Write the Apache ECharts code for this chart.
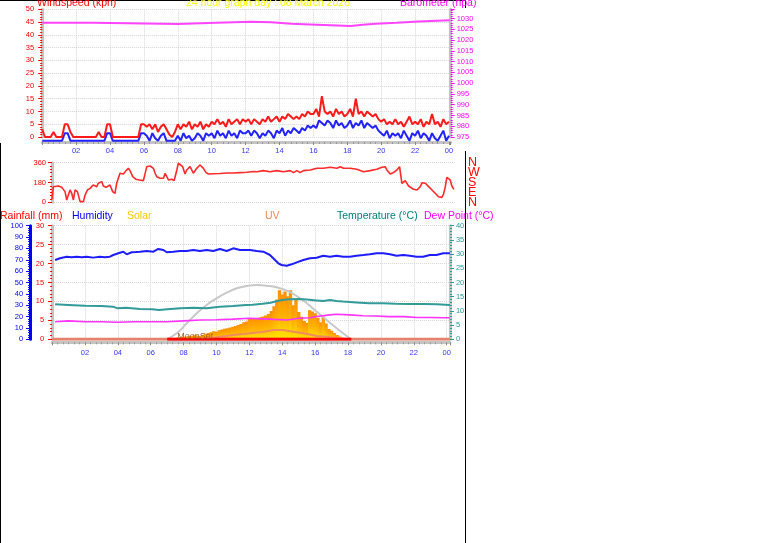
<!DOCTYPE html>
<html><head><meta charset="utf-8">
<script src="https://cdn.jsdelivr.net/npm/echarts@6/dist/echarts.min.js"></script>
<style>html,body{margin:0;padding:0;background:#fff;}#c{width:761px;height:543px;}</style>
</head><body><div id="c"></div>
<script>
// ---------- DATA ----------
const titleText = '24 hour graph day : 08 March 2026';
// wind, 10-minute samples from 00:00 (kph)
const windStepHours = 1/6;
const windGust = [
 3,0,0,0,2,0,  0,0,5,5,2,0,  0,0,0,0,0,0,  0,0,2,0,0,5,  5,0,0,0,0,0,  0,0,0,0,0,5,
 5,4,5,3,5,2,  4,5,3,1,0,2,  5,3,5,4,6,3,  5,4,6,3,5,4,  6,5,7,5,6,4,  7,5,6,7,5,7,
 6,7,5,7,6,5,  7,6,8,6,7,8,  6,8,7,9,8,7,  8,7,9,8,10,9, 9,11,8,16,10,9, 10,8,11,9,10,8,
 9,11,8,15,9,10, 8,10,9,8,9,7, 6,7,5,6,5,7, 5,6,4,6,8,5,  6,5,7,4,6,5,  9,5,6,4,7,5, 6];
const windAvg = [
 0,0,0,0,0,0,  0,0,3,3,0,0,  0,0,0,0,0,0,  0,0,0,0,0,3,  3,0,0,0,0,0,  0,0,0,0,0,3,
 3,2,0,3,1,0,  2,3,0,0,0,0,  2,0,3,1,2,0,  1,3,2,0,3,2,  3,1,4,2,3,1,  4,2,3,1,4,3,
 3,4,2,4,3,1,  3,2,4,3,1,4,  3,5,2,4,3,5,  4,3,5,4,6,5,  6,5,8,7,6,8,  7,5,8,6,7,5,
 6,8,5,7,6,8,  5,7,6,5,6,4,  3,2,4,1,3,2,  3,1,4,2,0,3,  2,4,1,3,2,0,  3,1,0,2,4,0, 2];
// barometer (hPa)
const baroHours = [0,3.0,8.0,9.8,12.3,13.5,14.7,16.2,18.2,18.9,19.7,20.9,22.2,24.05];
const baroVals  = [1028.05,1027.45,1027.9,1028.5,1028.25,1027.6,1027.15,1026.55,1027.15,1027.6,1028.05,1028.6,1029.2,1029.2];
// wind direction (degrees)
const dirHours = [0,0.08,0.38,0.58,0.78,0.88,0.98,1.08,1.18,1.28,1.38,1.52,1.68,1.78,1.88,1.98,2.12,2.28,2.47,2.68,2.77,2.98,3.07,3.23,3.31,3.47,3.63,3.77,3.87,3.97,4.07,4.27,4.43,4.57,4.67,4.83,5.03,5.23,5.47,5.67,5.87,6.07,6.17,6.27,6.47,6.67,6.77,6.87,6.97,7.17,7.31,7.47,7.56,7.66,7.82,7.96,8.06,8.26,8.36,8.46,8.66,8.86,8.96,9.06,9.22,9.36,9.66,10.06,10.46,10.86,11.26,11.66,12.06,12.26,12.65,13.05,13.45,13.85,14.25,14.45,14.65,14.85,15.05,15.45,15.85,16.25,16.65,17.05,17.25,17.45,17.84,18.24,18.64,19.04,19.44,19.74,19.94,20.04,20.24,20.44,20.64,20.8,20.94,21.14,21.34,21.64,21.84,22.04,22.14,22.34,22.54,22.74,22.93,23.13,23.33,23.43,23.53,23.63,23.73,23.83,23.93,24.05];
const dirVals  = [27,142,148,136,97,21,6,112,82,21,112,97,6,0,6,66,112,127,157,142,173,188,148,136,148,157,97,82,173,188,264,257,288,309,288,233,209,203,197,324,330,309,264,233,218,218,264,233,203,209,197,294,355,339,324,257,294,324,294,264,309,339,339,309,270,257,260,262,266,266,270,273,280,278,288,278,288,278,288,270,288,270,288,294,309,309,318,309,324,309,309,300,278,288,300,318,324,294,257,270,294,324,173,197,148,118,112,142,178,173,142,112,82,51,45,75,136,227,239,203,148,118];
// humidity (%)
const humHours = [0.18,0.48,0.88,1.2,1.49,1.8,2.1,2.5,2.91,3.2,3.52,3.72,3.82,4.03,4.33,4.54,4.84,5.1,5.35,5.75,6.16,6.46,6.77,6.97,7.37,7.78,8.18,8.59,8.99,9.4,9.8,10.21,10.62,11.02,11.43,11.83,12.04,12.44,12.85,13.25,13.56,13.76,13.96,14.27,14.57,14.88,15.28,15.69,16.09,16.49,16.9,17.3,17.71,18.11,18.52,18.93,19.33,19.74,20.14,20.55,20.95,21.36,21.76,22.17,22.57,22.98,23.38,23.79,24.2];
const humVals  = [69.8,71.3,72.7,72.2,72.7,72.2,72.7,71.9,72.7,72.2,72.7,74.2,75.1,75.7,77.1,74.8,76.6,76.8,77.1,77.7,77.1,79.5,78.6,76.6,77.1,77.7,77.7,78.6,77.7,78.6,77.7,79.5,77.7,80.1,78.6,78.6,78.6,77.7,77.1,74.2,69.8,66.9,65.4,64.8,66,67.7,69.8,71.3,71.8,73.6,72.7,73.6,72.7,72.7,73.6,74.2,74.8,75.7,75.7,74.8,73.6,74.2,73.6,72.7,72.7,74.2,74.2,75.7,75.7];
// temperature (°C)
const tempHours = [0.18,1,2,3,3.7,4.0,4.5,5.35,6.1,6.5,7.0,7.8,8.6,9.4,10.2,11.0,11.8,12.2,12.8,13.3,13.7,14.1,14.5,15.0,15.5,16.1,16.5,16.9,17.3,17.7,18.5,19.3,20.1,20.9,21.8,22.6,23.4,24.2];
const tempVals  = [12.3,12.1,11.8,11.7,11.5,10.9,11.1,10.7,10.6,10.3,10.6,10.9,11.1,10.9,11.5,11.7,12.1,12.2,12.5,12.9,13.5,13.9,14.1,14.2,14.0,13.7,13.5,13.8,13.5,13.3,13.0,12.7,12.7,12.5,12.4,12.4,12.3,12.1];
// dew point (°C)
const dewHours = [0.18,1,2,3,4,5,6,7,8,9,10,11,12,12.8,13.5,14.3,15.0,15.7,16.1,16.9,17.3,18.1,18.9,19.7,20.5,21.4,22.2,23.0,23.8,24.2];
const dewVals  = [6.2,6.5,6.2,6.2,6.0,6.2,6.2,6.2,6.5,6.8,6.9,7.1,7.4,7.2,7.0,6.8,7.4,7.6,8.0,8.6,8.8,8.6,8.3,8.2,8.0,8.0,7.7,7.7,7.6,7.6];
// solar radiation (W/m²), 10-minute samples from 07:00
const solarStartHour = 7;
const solarStepHours = 1/6;
const solarVals = [
 0,4,8,12,16,20,  22,25,28,32,35,33,  30,38,48,55,62,70,  66,80,86,92,98,104,
 111,118,126,134,150,156,  178,182,186,188,194,200,  210,222,250,290,350,432,
 395,420,378,432,300,350,  240,198,160,145,255,245,  230,190,150,198,140,90,
 75,55,38,25,12,6,  2,0];
// theoretical maximum solar (W/m²)
const solarMaxHours = [6.97,7.58,8.19,8.8,9.4,10.01,10.62,11.23,11.84,12.45,13.05,13.66,14.27,14.88,15.49,16.1,16.7,17.31,17.92,18.22];
const solarMaxVals  = [0,53,141,229,302,361,410,449,469,478,472,458,428,381,317,243,170,97,29,0];
// UV index
const uvHours = [6.97,9.0,10.01,11.03,12.04,12.86,13.46,14.07,14.67,15.29,16.1,16.7,17.31,18.12];
const uvVals  = [0,0,0.3,0.6,0.85,1.07,1.3,1.3,1.07,0.85,0.46,0.37,0.14,0];
// rainfall (mm)
const rainHours = [0,24.2];
const rainVals  = [0,0];
// daylight indicator on the rain baseline (hour from/to)
const daylightHours = [7.0,18.2];
const daylightVals  = [0,0];
// sun / moon events (hour)
const sunEvents = [7.0, 18.5];
const moonSetHour = 7.0;
// compass labels for wind direction axis
const compassDeg   = [360,270,180,90,0];
const compassNames = ['N','W','S','E','N'];

// ---------- CHART ----------
const F = 'Liberation Sans, Arial, sans-serif';
const zip = (a,b) => a.map((v,i)=>[v,b[i]]);
const gridLine = {show:true,lineStyle:{color:'#d6d6d6',type:'dotted',width:1}};
const hourFmt = v => (Number.isInteger(v) && v>0 && v%2===0) ? String(v%24).padStart(2,'0') : '';
const xLab = {color:'#3535ff',fontSize:7.5,fontFamily:F,formatter:hourFmt};

function yAx(o){
  const c = o.color;
  return Object.assign({
    type:'value', position:o.pos||'left',
    axisLine:{show:true,onZero:false,lineStyle:{color:o.lineColor||'#c4c4c4',width:3}},
    axisTick:{show:true,length:4,lineStyle:{color:c}},
    minorTick:{show:true,splitNumber:o.minor||5,length:2,lineStyle:{color:c}},
    axisLabel:{color:c,fontSize:7.5,fontFamily:F,margin:o.margin||7,formatter:o.fmt},
    splitLine:o.split?gridLine:{show:false}
  }, o.extra);
}

const chart = echarts.init(document.getElementById('c'));
const windPts = windGust.map((v,i)=>[i*windStepHours,v]);
const windAvgPts = windAvg.map((v,i)=>[i*windStepHours,v]);
const solarPts = solarVals.map((v,i)=>[solarStartHour+i*solarStepHours,v]);

const baseGraphic = [
    {type:'line',shape:{x1:0,y1:0.5,x2:466,y2:0.5},style:{stroke:'#000',lineWidth:1},z:100},
    {type:'line',shape:{x1:465.5,y1:0,x2:465.5,y2:8},style:{stroke:'#000',lineWidth:1},z:100},
    {type:'line',shape:{x1:465.5,y1:151,x2:465.5,y2:543},style:{stroke:'#000',lineWidth:1},z:100},
    {type:'line',shape:{x1:0.5,y1:143,x2:0.5,y2:543},style:{stroke:'#000',lineWidth:1},z:100},
    {type:'text',x:37,y:3.5,style:{text:'Windspeed (kph)',fill:'#ff0000',font:'10.5px '+F,verticalAlign:'middle'},z:101},
    {type:'text',x:186,y:3.5,style:{text:titleText,fill:'#ffff00',font:'10.5px '+F,verticalAlign:'middle'},z:101},
    {type:'text',x:400,y:3.5,style:{text:'Barometer (hpa)',fill:'#ff00ff',font:'10.5px '+F,verticalAlign:'middle'},z:101},
    {type:'text',x:0,y:216.5,style:{text:'Rainfall (mm)',fill:'#ff0000',font:'10.5px '+F,verticalAlign:'middle'}},
    {type:'text',x:72,y:216.5,style:{text:'Humidity',fill:'#0000ff',font:'10.5px '+F,verticalAlign:'middle'}},
    {type:'text',x:127,y:216.5,style:{text:'Solar',fill:'#ffc800',font:'10.5px '+F,verticalAlign:'middle'}},
    {type:'text',x:265,y:216.5,style:{text:'UV',fill:'#f08a50',font:'10.5px '+F,verticalAlign:'middle'}},
    {type:'text',x:337,y:216.5,style:{text:'Temperature (°C)',fill:'#008080',font:'10.5px '+F,verticalAlign:'middle'}},
    {type:'text',x:424,y:216.5,style:{text:'Dew Point (°C)',fill:'#ff00ff',font:'10.5px '+F,verticalAlign:'middle'}}
];

const option = {
  animation:false,
  backgroundColor:'#ffffff',
  grid:[
    {left:42.2, top:9.3, width:24.1*16.95, height:127.7},
    {left:52, top:162.7, width:24.1*16.71, height:39.6},
    {left:52.1, top:225.7, width:24.2*16.44, height:113.6}
  ],
  xAxis:[
    {type:'value',gridIndex:0,min:0,max:24.1,interval:2,offset:5,
     axisLine:{show:true,onZero:false,lineStyle:{color:'#c4c4c4',width:3}},
     axisTick:{show:true,length:3,lineStyle:{color:'#888'}},
     minorTick:{show:true,splitNumber:6,length:2,lineStyle:{color:'#999'}},
     axisLabel:Object.assign({margin:5},xLab), splitLine:gridLine},
    {type:'value',gridIndex:1,min:0,max:24.1,show:false},
    {type:'value',gridIndex:2,min:0,max:24.2,interval:2,offset:3,
     axisLine:{show:true,onZero:false,lineStyle:{color:'#c4c4c4',width:3}},
     axisTick:{show:true,length:3,lineStyle:{color:'#888'}},
     minorTick:{show:true,splitNumber:6,length:2,lineStyle:{color:'#999'}},
     axisLabel:Object.assign({margin:7},xLab), splitLine:gridLine}
  ],
  yAxis:[
    yAx({color:'#ff0000',split:true,margin:8,extra:{gridIndex:0,min:0,max:50,interval:5}}),
    yAx({color:'#ff00ff',pos:'right',margin:6,fmt:v=>(v%5===0?String(v):''),extra:{gridIndex:0,min:975,max:1034.3,interval:5}}),
    {type:'value',gridIndex:0,min:1.5,max:51.5,show:false},
    yAx({color:'#ff0000',split:true,minor:6,margin:6,extra:{gridIndex:1,min:0,max:360,interval:180}}),
    {type:'value',gridIndex:1,position:'right',min:0,max:360,interval:90,show:false},
    yAx({color:'#0000ff',lineColor:'#0000ff',minor:5,margin:7,extra:{gridIndex:2,min:0,max:100,interval:10,offset:22}}),
    yAx({color:'#ff0000',split:true,margin:8,extra:{gridIndex:2,min:0,max:30,interval:5}}),
    yAx({color:'#2a9a9a',pos:'right',margin:6,extra:{gridIndex:2,min:0,max:40,interval:5}}),
    {type:'value',gridIndex:2,min:0,max:1000,show:false},
    {type:'value',gridIndex:2,min:0,max:16,show:false}
  ],
  series:[
    {type:'line',xAxisIndex:0,yAxisIndex:2,data:windAvgPts,symbol:'none',clip:false,lineStyle:{color:'#2222ff',width:2}},
    {type:'line',xAxisIndex:0,yAxisIndex:0,data:windPts,symbol:'none',lineStyle:{color:'#ff1a1a',width:2}},
    {type:'line',xAxisIndex:0,yAxisIndex:1,data:zip(baroHours,baroVals),step:'end',symbol:'none',lineStyle:{color:'#ff44ff',width:2}},
    {type:'line',xAxisIndex:1,yAxisIndex:3,data:zip(dirHours,dirVals),symbol:'none',lineStyle:{color:'#ff2a2a',width:1.6}},
    {type:'line',xAxisIndex:2,yAxisIndex:8,data:zip(solarMaxHours,solarMaxVals),smooth:true,symbol:'none',lineStyle:{color:'#c8c8c8',width:2}},
    {type:'bar',xAxisIndex:2,yAxisIndex:8,data:solarPts,barWidth:3.4,
     itemStyle:{color:new echarts.graphic.LinearGradient(0,0,0,1,[{offset:0,color:'#ff9000'},{offset:0.55,color:'#ffb400'},{offset:1,color:'#ffe800'}])}},
    {type:'line',xAxisIndex:2,yAxisIndex:9,data:zip(uvHours,uvVals),symbol:'none',lineStyle:{color:'#f08a60',width:2}},
    {type:'line',xAxisIndex:2,yAxisIndex:5,data:zip(humHours,humVals),symbol:'none',lineStyle:{color:'#1c1cff',width:2}},
    {type:'line',xAxisIndex:2,yAxisIndex:7,data:zip(tempHours,tempVals),symbol:'none',lineStyle:{color:'#339a9a',width:2}},
    {type:'line',xAxisIndex:2,yAxisIndex:7,data:zip(dewHours,dewVals),symbol:'none',lineStyle:{color:'#ff33ff',width:1.6}},
    {type:'line',xAxisIndex:2,yAxisIndex:6,data:zip(rainHours,rainVals),symbol:'none',lineStyle:{color:'#e4806c',width:3},
     markLine:{symbol:'none',silent:true,label:{show:false},lineStyle:{color:'#b08050',width:2,type:'solid'},
       data:sunEvents.map(h=>[{coord:[h,-0.9]},{coord:[h,2.1]}])}},
    {type:'line',xAxisIndex:2,yAxisIndex:6,data:zip(daylightHours,daylightVals),symbol:'none',lineStyle:{color:'#ff0000',width:3},
     markPoint:{symbol:'circle',symbolSize:0,silent:true,
       data:[{coord:[moonSetHour,0],label:{show:true,formatter:'MoonSet',position:'right',distance:10,offset:[0,-3],color:'#a0602a',fontSize:9,fontFamily:F}}]}}
  ],
  graphic:baseGraphic
};
chart.setOption(option);

// compass letters placed through the direction axis scale
const compassGraphic = compassDeg.map((d,i)=>({
  type:'text', x:468,
  y:chart.convertToPixel({yAxisIndex:4}, d),
  style:{text:compassNames[i],fill:'#ff0000',font:'12.5px '+F,verticalAlign:'middle'}, z:101
}));
chart.setOption({graphic:baseGraphic.concat(compassGraphic)});
</script></body></html>
